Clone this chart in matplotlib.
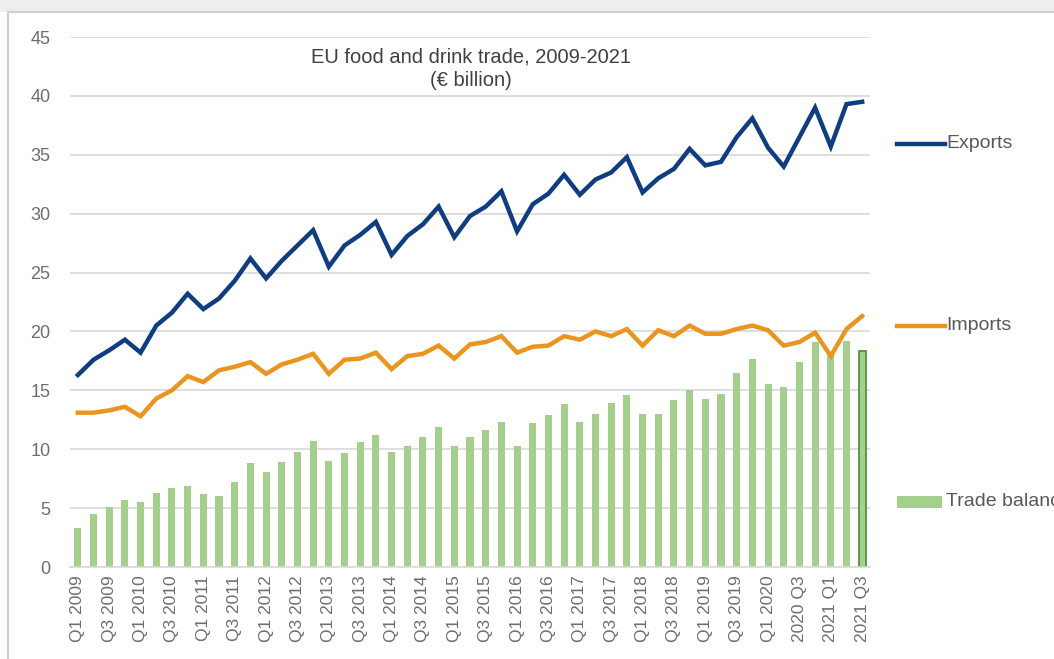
import matplotlib
matplotlib.use("Agg")
import matplotlib.pyplot as plt
from matplotlib.lines import Line2D
from matplotlib.patches import Rectangle
import numpy as np

plt.rcParams['font.family'] = ['Liberation Sans', 'DejaVu Sans']

# ---------------- data ----------------
quarters = []
for yr in range(2009, 2022):
    for q in range(1, 5):
        if yr == 2021 and q > 3:
            break
        quarters.append(f"Q{q} {yr}")

tick_labels = ["Q1 2009", "Q3 2009", "Q1 2010", "Q3 2010", "Q1 2011", "Q3 2011",
               "Q1 2012", "Q3 2012", "Q1 2013", "Q3 2013", "Q1 2014", "Q3 2014",
               "Q1 2015", "Q3 2015", "Q1 2016", "Q3 2016", "Q1 2017", "Q3 2017",
               "Q1 2018", "Q3 2018", "Q1 2019", "Q3 2019", "Q1 2020", "2020 Q3",
               "2021 Q1", "2021 Q3"]

exports = [16.3, 17.6, 18.4, 19.3, 18.2, 20.5, 21.6, 23.2, 21.9, 22.8,
           24.3, 26.2, 24.5, 26.0, 27.3, 28.6, 25.5, 27.3, 28.2, 29.3,
           26.5, 28.1, 29.1, 30.6, 28.0, 29.8, 30.6, 31.9, 28.5, 30.8,
           31.7, 33.3, 31.6, 32.9, 33.5, 34.8, 31.8, 33.0, 33.8, 35.5,
           34.1, 34.4, 36.5, 38.1, 35.6, 34.0, 36.5, 39.0, 35.7, 39.3,
           39.5]

imports = [13.1, 13.1, 13.3, 13.6, 12.8, 14.3, 15.0, 16.2, 15.7, 16.7,
           17.0, 17.4, 16.4, 17.2, 17.6, 18.1, 16.4, 17.6, 17.7, 18.2,
           16.8, 17.9, 18.1, 18.8, 17.7, 18.9, 19.1, 19.6, 18.2, 18.7,
           18.8, 19.6, 19.3, 20.0, 19.6, 20.2, 18.8, 20.1, 19.6, 20.5,
           19.8, 19.8, 20.2, 20.5, 20.1, 18.8, 19.1, 19.9, 17.9, 20.2,
           21.3]

trade_balance = [3.3, 4.5, 5.1, 5.7, 5.5, 6.3, 6.7, 6.9, 6.2, 6.0,
                 7.2, 8.8, 8.1, 8.9, 9.8, 10.7, 9.0, 9.7, 10.6, 11.2,
                 9.8, 10.3, 11.0, 11.9, 10.3, 11.0, 11.6, 12.3, 10.3, 12.2,
                 12.9, 13.8, 12.3, 13.0, 13.9, 14.6, 13.0, 13.0, 14.2, 15.0,
                 14.3, 14.7, 16.5, 17.7, 15.5, 15.3, 17.4, 19.1, 18.2, 19.2,
                 18.3]

title_lines = ["EU food and drink trade, 2009-2021", "(\u20ac billion)"]
series_names = ["Exports", "Imports", "Trade balance"]

# ---------------- style ----------------
c_exp = "#0F3D7F"
c_imp = "#EA951F"
c_bal = "#A5CF8D"
c_grid = "#D9D9D9"
c_text = "#6E6E6E"

W, H = 1054, 659
fig = plt.figure(figsize=(W / 100, H / 100), dpi=100)

def fx(px):
    return px / W

def fy(py):
    return 1 - py / H

# screenshot frame (behind everything)
fig.patches.append(Rectangle((0, fy(12)), 1, 1 - fy(12), transform=fig.transFigure,
                             facecolor="#EEEEEE", edgecolor="none", zorder=-10))
fig.patches.append(Rectangle((fx(8), -0.05), 1.1, fy(12) + 0.05, transform=fig.transFigure,
                             facecolor="white", edgecolor="#CFCFCF", linewidth=1.5, zorder=-10))

ax = fig.add_axes([fx(70), fy(567), fx(870) - fx(70), fy(37) - fy(567)])
ax.set_zorder(1)
ax.set_facecolor("none")

x = np.arange(len(quarters))
bars = ax.bar(x, trade_balance, width=0.45, color=c_bal, zorder=2)
bars[-1].set_edgecolor("#4F8A30")
bars[-1].set_linewidth(1.2)
ax.plot(x, imports, color=c_imp, lw=3.2, zorder=3, solid_joinstyle="miter")
ax.plot(x, exports, color=c_exp, lw=3.2, zorder=4, solid_joinstyle="miter")

ax.set_xlim(-0.5, len(quarters) - 0.5)
ax.set_ylim(0, 45)
ax.set_yticks(np.arange(0, 46, 5))
ax.yaxis.grid(True, color=c_grid, lw=1.2, zorder=0)
ax.set_axisbelow(True)
for s in ["left", "right", "top"]:
    ax.spines[s].set_visible(False)
ax.spines["bottom"].set_color(c_grid)
ax.spines["bottom"].set_linewidth(1.2)
ax.set_xticks(x[::2])
ax.set_xticklabels(tick_labels, rotation=90)
ax.tick_params(axis="x", length=0, labelsize=12.5, colors=c_text, pad=6)
ax.tick_params(axis="y", length=0, labelsize=13, colors=c_text, pad=14)

# title inside plot
fig.text(fx(471), fy(57), title_lines[0], ha="center", va="center", fontsize=14.5, color="#404040")
fig.text(fx(471), fy(80), title_lines[1], ha="center", va="center", fontsize=14.5, color="#404040")

# legend (right side)
fig.lines.append(Line2D([fx(897), fx(945)], [fy(144), fy(144)], transform=fig.transFigure,
                        color=c_exp, lw=3.2))
fig.text(fx(946), fy(144), series_names[0], ha="left", va="center", fontsize=14, color="#595959")
fig.lines.append(Line2D([fx(897), fx(945)], [fy(326), fy(326)], transform=fig.transFigure,
                        color=c_imp, lw=3.2))
fig.text(fx(946), fy(326), series_names[1], ha="left", va="center", fontsize=14, color="#595959")
fig.patches.append(Rectangle((fx(897), fy(508)), fx(942) - fx(897), fy(496) - fy(508),
                             transform=fig.transFigure, facecolor=c_bal, edgecolor="none"))
fig.text(fx(946), fy(501), series_names[2], ha="left", va="center", fontsize=14, color="#595959")

fig.savefig("out.png", dpi=100)
